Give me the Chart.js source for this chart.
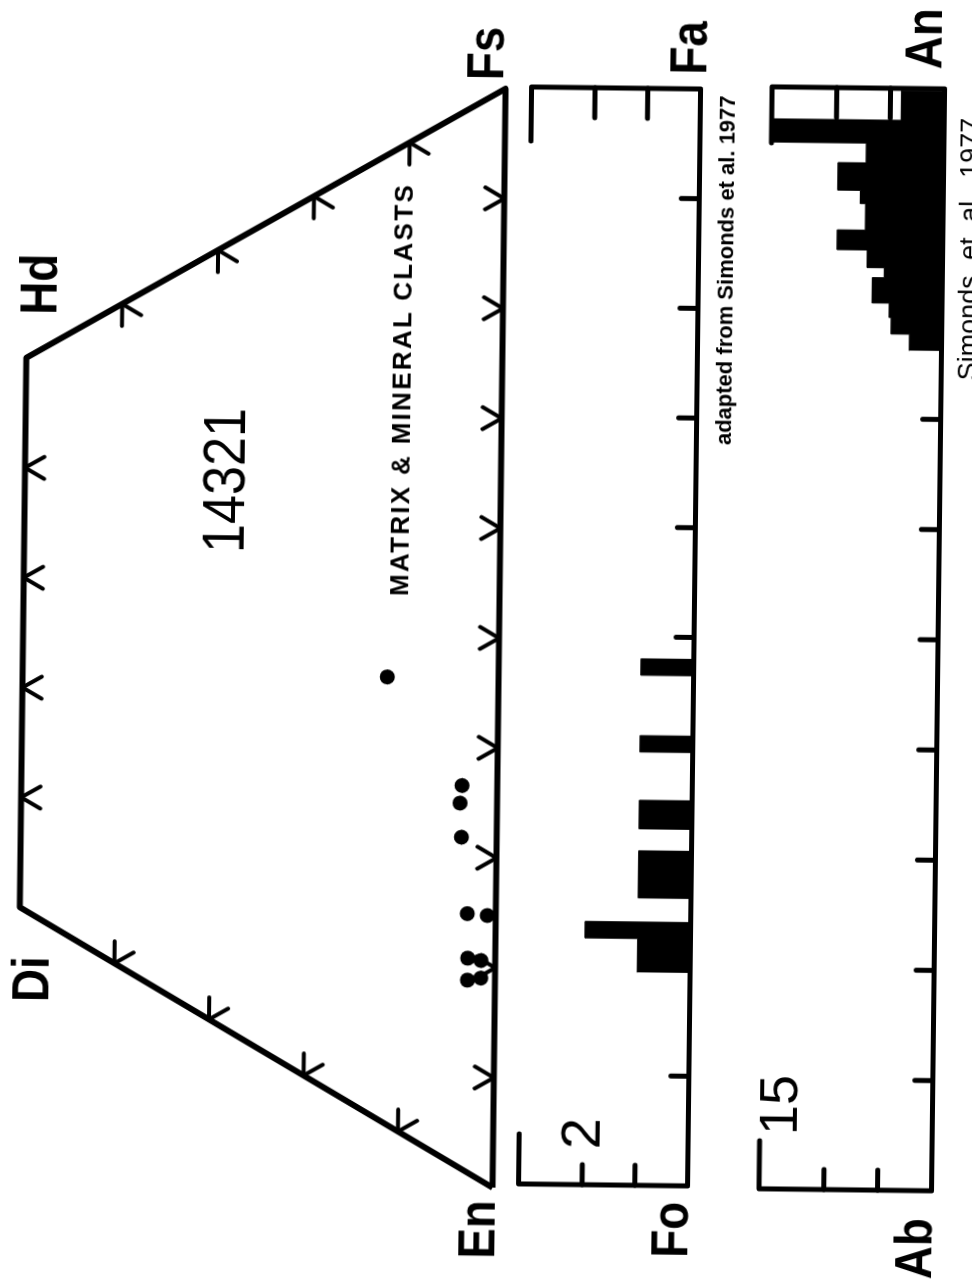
<!DOCTYPE html>
<html>
<head>
<meta charset="utf-8">
<script src="https://cdn.jsdelivr.net/npm/chart.js@4.4.1/dist/chart.umd.min.js"></script>
<style>
  html, body { margin: 0; padding: 0; background: #fff; overflow: hidden; }
  body { width: 972px; height: 1283px; position: relative; }
  /* the figure is drawn upright (1283 x 972) and turned a quarter turn, like the scan */
  #sheet { position: absolute; left: -155.5px; top: 155.5px; width: 1283px; height: 972px;
           transform: rotate(-89.32deg); transform-origin: 50% 50%; }
  #sheet canvas { position: absolute; left: 0; }
  .lbl { position: absolute; white-space: nowrap; line-height: 1; color: #000;
         font-family: "Liberation Sans", Arial, sans-serif; transform-origin: 50% 50%; }
  .end { font-size: 52px; font-weight: bold; transform: translateX(-50%) scaleX(0.88); }
</style>
</head>
<body>
<div id="sheet">
  <canvas id="pyx" width="1283" height="560" style="top:0"></canvas>
  <canvas id="oliv" width="1283" height="240" style="top:490px"></canvas>
  <canvas id="plag" width="1283" height="242" style="top:730px"></canvas>

  <div class="lbl end" style="left:54px;top:457px">En</div>
  <div class="lbl end" style="left:299px;top:8px">Di</div>
  <div class="lbl end" style="left:994px;top:8px">Hd</div>
  <div class="lbl end" style="left:1230px;top:452px">Fs</div>
  <div class="lbl end" style="left:56px;top:650px">Fo</div>
  <div class="lbl end" style="left:1238px;top:655px">Fa</div>
  <div class="lbl end" style="left:40px;top:894px">Ab</div>
  <div class="lbl end" style="left:1250px;top:890px">An</div>

  <div class="lbl" style="left:800px;top:192px;font-size:60px;transform:translateX(-50%) scaleX(0.87)">14321</div>
  <div class="lbl" style="left:893px;top:385px;font-size:26px;font-weight:600;letter-spacing:2.3px;transform:translateX(-50%)">MATRIX &amp; MINERAL CLASTS</div>
  <div class="lbl" style="left:1016px;top:710px;font-size:22px;font-weight:bold;transform:translateX(-50%)">adapted from Simonds et al. 1977</div>
  <div class="lbl" style="left:1040px;top:951px;font-size:27px;word-spacing:8px;transform:translateX(-50%)">Simonds et al. 1977</div>
  <div class="lbl" style="left:151px;top:558px;font-size:56px;transform:translateX(-50%)">2</div>
  <div class="lbl" style="left:182px;top:756px;font-size:54px;transform:translateX(-50%)">15</div>
</div>

<script>
// ---- pyroxene quadrilateral, mol% ----
const quadNames = ['En', 'Di', 'Hd', 'Fs', 'En'];
const quadWo = [0, 50, 50, 0, 0];
const quadFs = [0, 0, 50, 100, 0];
const baseTicks = [10, 20, 30, 40, 50, 60, 70, 80, 90];   // Fs along En-Fs
const sideTicks = [10, 20, 30, 40];                       // Wo along En-Di and Fs-Hd
const topTicks = [35, 45, 55, 65];                        // along Di-Hd

// clast analyses
const clastWo = [11.7, 3.7, 3.9, 3.7, 3.0, 0.9, 2.9, 1.5, 2.9, 1.5];
const clastFs = [40.5, 34.7, 33.0, 30.0, 23.4, 24.3, 19.4, 19.9, 17.4, 18.3];

// ---- olivine histogram (Fa mol%, number of grains) ----
const olivEdges = [19.4, 22.5, 24.0, 26.2, 30.5, 32.5, 35.1, 39.5, 41.0, 46.5, 48.0];
const olivCounts = [1, 2, 0, 1, 0, 1, 0, 1, 0, 1, 0];
const olivCountTicks = [1, 2];

// ---- plagioclase histogram (An mol%, number of grains) ----
const plagEdges = [76.2, 77.7, 79.2, 80.5, 82.8, 83.7, 85.3, 87.1, 89.5, 90.7, 93.2, 95.0, 97.1, 99.8];
const plagCounts = [3, 4.7, 4.9, 6.5, 5.4, 7, 9.8, 7.2, 7.7, 9.8, 7.2, 16, 4, 0];
const plagCountTicks = [5, 10];

const compTicks = [10, 20, 30, 40, 50, 60, 70, 80, 90];

// ternary projection: plotted x from Wo and Fs
const toX = (wo, fs) => fs + wo / 2;

const ternaryTicks = {
  id: 'ternaryTicks',
  afterDatasetsDraw(chart, args, o) {
    const { ctx, scales: { x, y } } = chart;
    const pt = (wo, fs) => [x.getPixelForValue(toX(wo, fs)), y.getPixelForValue(wo)];
    const c = Math.cos(Math.PI / 3), s = Math.sin(Math.PI / 3);
    ctx.save();
    ctx.strokeStyle = '#000';
    ctx.lineWidth = o.width;
    ctx.lineCap = 'round';
    const arm = (p, dx, dy) => {
      ctx.beginPath();
      ctx.moveTo(p[0], p[1]);
      ctx.lineTo(p[0] + dx * o.len, p[1] + dy * o.len);
      ctx.stroke();
    };
    o.base.forEach(f => { const p = pt(0, f); arm(p, -c, -s); arm(p, c, -s); });
    o.side.forEach(w => {
      const l = pt(w, 0); arm(l, 1, 0); arm(l, c, s);
      const r = pt(w, 100 - w); arm(r, -1, 0); arm(r, -c, s);
    });
    o.top.forEach(t => {
      const p = [x.getPixelForValue(t), y.getPixelForValue(50)];
      arm(p, -c, s); arm(p, c, s);
    });
    ctx.restore();
  }
};

// open frame of the histograms: axes at both ends, short caps on top
const histFrame = {
  id: 'histFrame',
  afterDatasetsDraw(chart, args, o) {
    const { ctx, scales: { x, y } } = chart;
    const x0 = x.getPixelForValue(x.min), x1 = x.getPixelForValue(x.max);
    const y0 = y.getPixelForValue(0), yt = y.getPixelForValue(y.max);
    ctx.save();
    ctx.strokeStyle = '#000';
    ctx.lineWidth = o.width;
    ctx.lineCap = 'round';
    ctx.lineJoin = 'round';
    ctx.beginPath();
    ctx.moveTo(x0 + o.capL, yt);
    ctx.lineTo(x0, yt);
    ctx.lineTo(x0, y0);
    ctx.lineTo(x1, y0);
    ctx.lineTo(x1, yt);
    ctx.lineTo(x1 - o.capR, yt);
    ctx.stroke();
    ctx.beginPath();
    o.countTicks.forEach(v => {
      const py = y.getPixelForValue(v);
      ctx.moveTo(x0, py); ctx.lineTo(x0 + o.tickL, py);
      ctx.moveTo(x1, py); ctx.lineTo(x1 - o.tickR, py);
    });
    o.compTicks.forEach(v => {
      const px = x.getPixelForValue(v);
      ctx.moveTo(px, y0); ctx.lineTo(px, y0 - o.tickB);
    });
    ctx.stroke();
    ctx.restore();
  }
};

const quiet = { legend: { display: false }, tooltip: { enabled: false } };

new Chart(document.getElementById('pyx'), {
  type: 'scatter',
  data: {
    datasets: [
      {
        label: quadNames.join('-'),
        data: quadWo.map((w, i) => ({ x: toX(w, quadFs[i]), y: w })),
        showLine: true,
        borderColor: '#000',
        borderWidth: 6,
        pointRadius: 0,
        borderJoinStyle: 'round',
        clip: false
      },
      {
        label: 'matrix & mineral clasts',
        data: clastWo.map((w, i) => ({ x: toX(w, clastFs[i]), y: w })),
        pointRadius: 7.5,
        pointBackgroundColor: '#000',
        pointBorderWidth: 0,
        clip: false
      }
    ]
  },
  options: {
    responsive: false,
    animation: false,
    events: [],
    layout: { padding: { left: 96, right: 88, top: 22.6, bottom: 61.5 } },
    plugins: { ...quiet, ternaryTicks: { base: baseTicks, side: sideTicks, top: topTicks, len: 22, width: 4 } },
    scales: {
      x: { type: 'linear', min: 0, max: 100, display: false },
      y: { type: 'linear', min: 0, max: 50, display: false }
    }
  },
  plugins: [ternaryTicks]
});

// each count runs from its own edge to the next edge
function histogram(id, edges, counts, yMax, countTicks, pad, caps) {
  return new Chart(document.getElementById(id), {
    type: 'line',
    data: {
      datasets: [{
        data: edges.map((e, i) => ({ x: e, y: counts[i] })),
        stepped: 'before',
        fill: 'origin',
        backgroundColor: '#000',
        borderColor: '#000',
        borderWidth: 1,
        pointRadius: 0
      }]
    },
    options: {
      responsive: false,
      animation: false,
      events: [],
      layout: { padding: pad },
      plugins: {
        ...quiet,
        histFrame: { countTicks: countTicks, compTicks: compTicks, width: 5,
                     capL: caps[0], capR: caps[1], tickL: 20, tickR: 30, tickB: 18 }
      },
      scales: {
        x: { type: 'linear', min: 0, max: 100, display: false },
        y: { type: 'linear', min: 0, max: yMax, display: false }
      }
    },
    plugins: [histFrame]
  });
}

histogram('oliv', olivEdges, olivCounts, 3.2, olivCountTicks,
  { left: 100, right: 86, top: 34.5, bottom: 36.5 }, [50, 54]);
histogram('plag', plagEdges, plagCounts, 16, plagCountTicks,
  { left: 98, right: 83, top: 35, bottom: 34.5 }, [48, 56]);
</script>
</body>
</html>
